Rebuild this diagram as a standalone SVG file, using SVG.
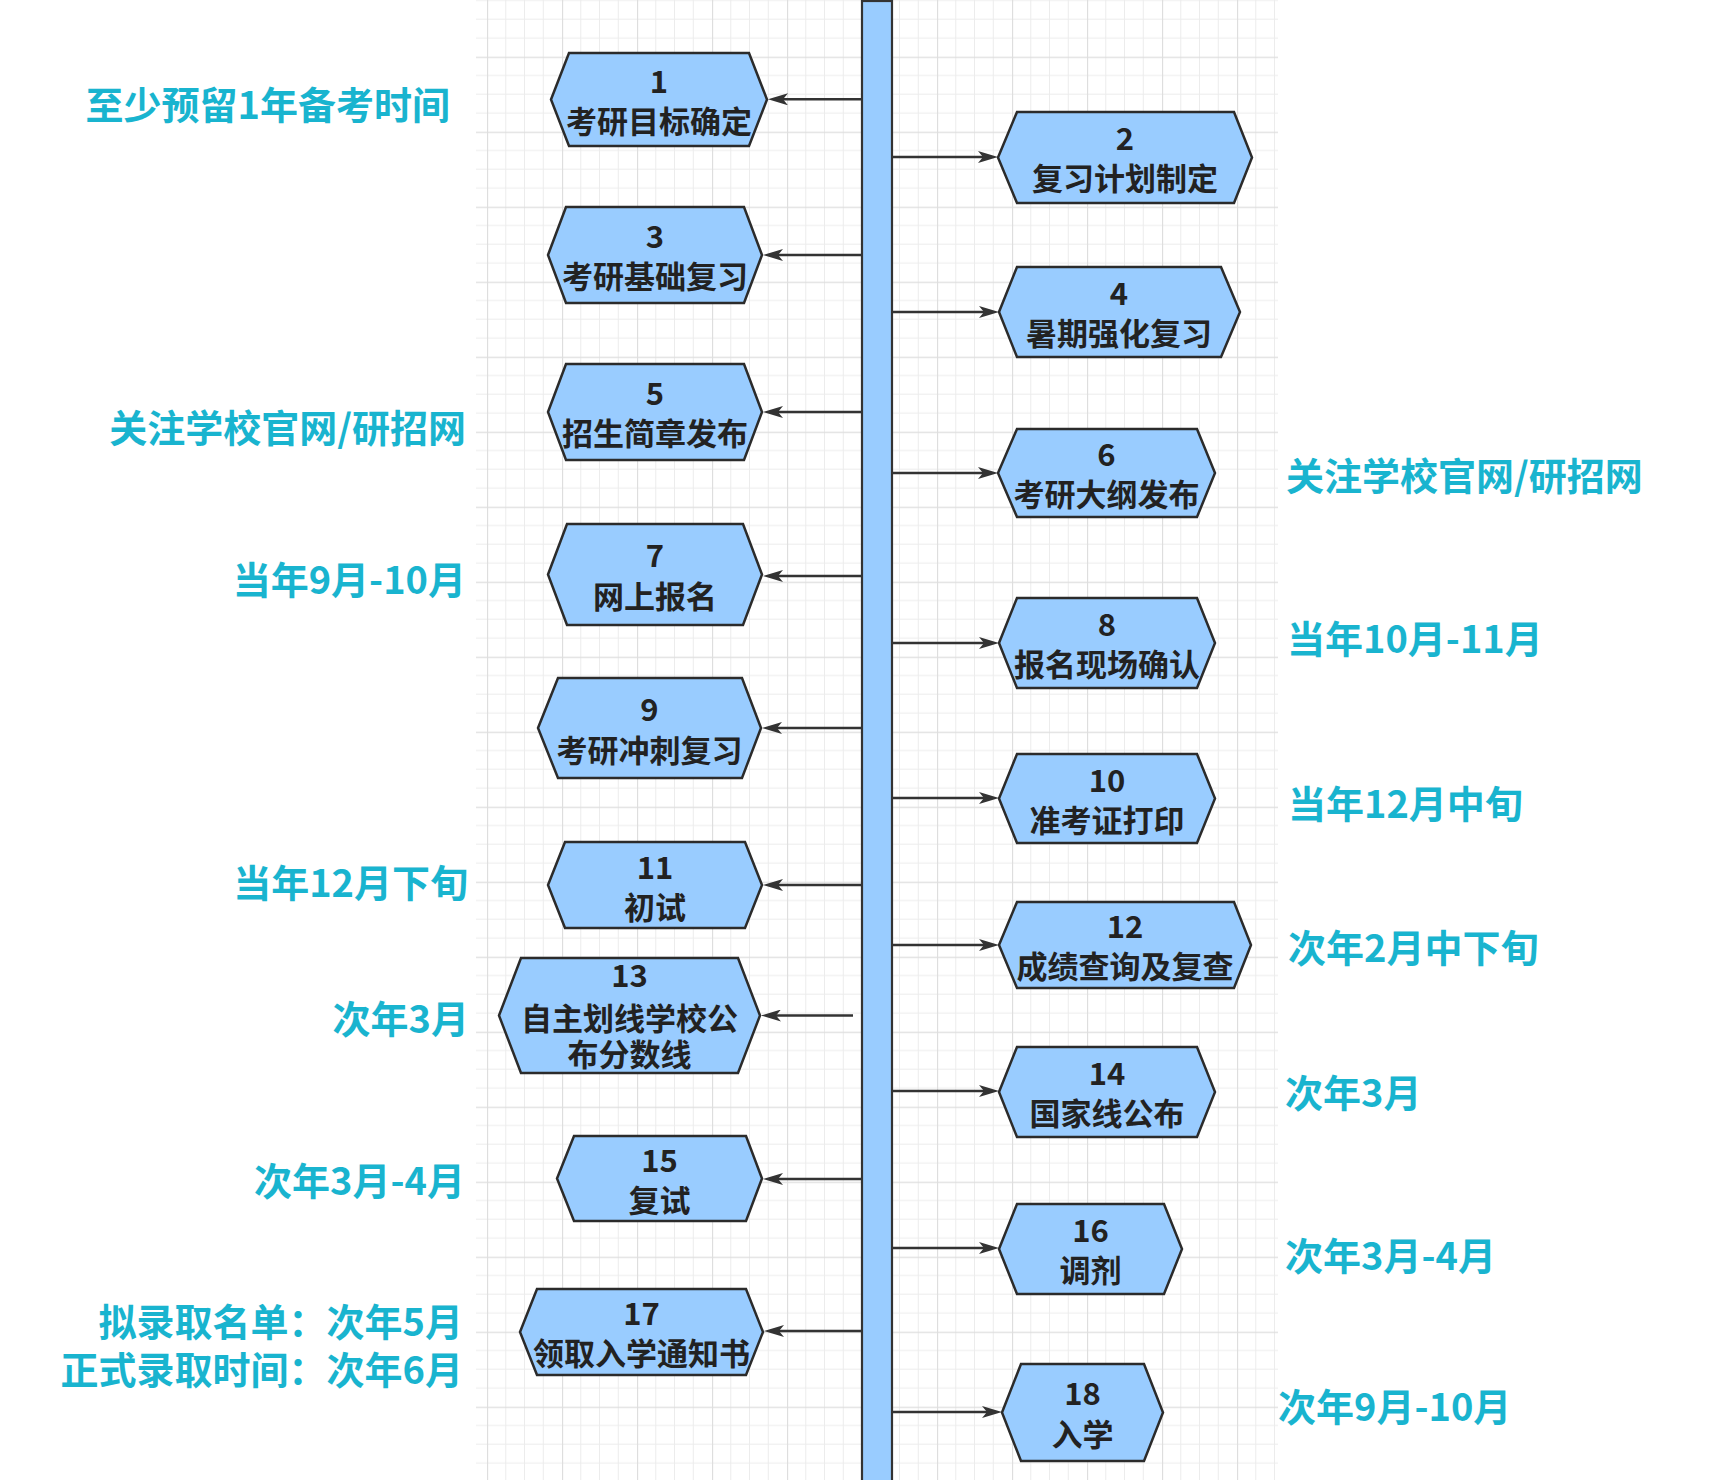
<svg xmlns="http://www.w3.org/2000/svg" width="1718" height="1480" viewBox="0 0 1718 1480">
<style>
.hex{fill:#99ccff;stroke:#2b2b2b;stroke-width:2.5;stroke-linejoin:miter}
.nt{font-family:"Noto Sans CJK SC","Noto Sans",sans-serif;font-weight:bold;font-size:31px;fill:#222;text-anchor:middle}
.lbl{font-family:"Noto Sans CJK SC","Noto Sans",sans-serif;font-weight:bold;font-size:38px;fill:#19b4cf}
.l{text-anchor:end}
.con{stroke:#333;stroke-width:2.5;fill:none;marker-end:url(#arr)}
</style>
<defs>
<pattern id="grid" x="487" y="56.7" width="75" height="75" patternUnits="userSpaceOnUse">
<path d="M18.75 0V75M37.5 0V75M56.25 0V75M0 18.75H75M0 37.5H75M0 56.25H75" stroke="#ececec" stroke-width="1"/>
<path d="M0.5 0V75M0 0.5H75" stroke="#dedede" stroke-width="1.3"/>
</pattern>
<marker id="arr" viewBox="0 0 20 12" refX="8" refY="6" markerWidth="20" markerHeight="12" markerUnits="userSpaceOnUse" orient="auto">
<path d="M0,0 L20,6 L0,12 L5,6 Z" fill="#333"/>
</marker>
</defs>
<rect width="1718" height="1480" fill="#fff"/>
<rect x="476" y="0" width="802" height="1480" fill="url(#grid)"/>
<g id="timeline">
<rect x="862" y="1" width="30" height="1490" fill="#99ccff" stroke="#333" stroke-width="2.2"/>
</g>
<g id="connectors">
<path class="con" d="M862 99.3H780"/>
<path class="con" d="M862 255H775"/>
<path class="con" d="M862 412H775"/>
<path class="con" d="M862 576H775"/>
<path class="con" d="M862 728H774"/>
<path class="con" d="M862 885H775"/>
<path class="con" d="M853 1015.5H773"/>
<path class="con" d="M862 1179H775"/>
<path class="con" d="M862 1331H776"/>
<path class="con" d="M892 157H986"/>
<path class="con" d="M892 312H987"/>
<path class="con" d="M892 473H986"/>
<path class="con" d="M892 643H987"/>
<path class="con" d="M892 798H987"/>
<path class="con" d="M892 945H987"/>
<path class="con" d="M892 1091H987"/>
<path class="con" d="M892 1248H987"/>
<path class="con" d="M892 1412H990"/>
</g>
<g id="n1"><polygon class="hex" points="551,99.5 569,53 749,53 767,99.5 749,146 569,146"/><text class="nt" x="659" y="93">1</text><text class="nt" x="659" y="133">考研目标确定</text></g>
<g id="n3"><polygon class="hex" points="548,255 566,207 744,207 762,255 744,303 566,303"/><text class="nt" x="655" y="248">3</text><text class="nt" x="655" y="288">考研基础复习</text></g>
<g id="n5"><polygon class="hex" points="548,412 566,364 744,364 762,412 744,460 566,460"/><text class="nt" x="655" y="405">5</text><text class="nt" x="655" y="445">招生简章发布</text></g>
<g id="n7"><polygon class="hex" points="548,574.5 567,524 743,524 762,574.5 743,625 567,625"/><text class="nt" x="655" y="567">7</text><text class="nt" x="655" y="608">网上报名</text></g>
<g id="n9"><polygon class="hex" points="538,728 558,678 742,678 761,728 742,778 558,778"/><text class="nt" x="649.5" y="721">9</text><text class="nt" x="649.5" y="762">考研冲刺复习</text></g>
<g id="n11"><polygon class="hex" points="548,885 565,842 745,842 762,885 745,928 565,928"/><text class="nt" x="655" y="879">11</text><text class="nt" x="655" y="919">初试</text></g>
<g id="n13"><polygon class="hex" points="499,1015.5 521,958 738,958 760,1015.5 738,1073 521,1073"/><text class="nt" x="629.5" y="987">13</text><text class="nt" x="629.5" y="1030">自主划线学校公</text><text class="nt" x="629.5" y="1066">布分数线</text></g>
<g id="n15"><polygon class="hex" points="557,1178.5 574,1136 746,1136 762,1178.5 746,1221 574,1221"/><text class="nt" x="659.5" y="1172">15</text><text class="nt" x="659.5" y="1212">复试</text></g>
<g id="n17"><polygon class="hex" points="520,1332 537,1289 746,1289 763,1332 746,1375 537,1375"/><text class="nt" x="641.5" y="1325">17</text><text class="nt" x="641.5" y="1365">领取入学通知书</text></g>
<g id="n2"><polygon class="hex" points="998,157.5 1017,112 1234,112 1252,157.5 1234,203 1017,203"/><text class="nt" x="1125" y="150">2</text><text class="nt" x="1125" y="190">复习计划制定</text></g>
<g id="n4"><polygon class="hex" points="999,312 1017,267 1221,267 1240,312 1221,357 1017,357"/><text class="nt" x="1119" y="305">4</text><text class="nt" x="1119" y="345">暑期强化复习</text></g>
<g id="n6"><polygon class="hex" points="998,473 1017,429 1197,429 1215,473 1197,517 1017,517"/><text class="nt" x="1106.5" y="466">6</text><text class="nt" x="1106.5" y="506">考研大纲发布</text></g>
<g id="n8"><polygon class="hex" points="999,643 1017,598 1197,598 1215,643 1197,688 1017,688"/><text class="nt" x="1107" y="636">8</text><text class="nt" x="1107" y="676">报名现场确认</text></g>
<g id="n10"><polygon class="hex" points="999,798.5 1017,754 1197,754 1215,798.5 1197,843 1017,843"/><text class="nt" x="1107" y="792">10</text><text class="nt" x="1107" y="832">准考证打印</text></g>
<g id="n12"><polygon class="hex" points="999,945 1017,902 1234,902 1251,945 1234,988 1017,988"/><text class="nt" x="1125" y="938">12</text><text class="nt" x="1125" y="978">成绩查询及复查</text></g>
<g id="n14"><polygon class="hex" points="999,1092 1017,1047 1197,1047 1215,1092 1197,1137 1017,1137"/><text class="nt" x="1107" y="1085">14</text><text class="nt" x="1107" y="1125">国家线公布</text></g>
<g id="n16"><polygon class="hex" points="999,1249 1017,1204 1164,1204 1182,1249 1164,1294 1017,1294"/><text class="nt" x="1090.5" y="1242">16</text><text class="nt" x="1090.5" y="1282">调剂</text></g>
<g id="n18"><polygon class="hex" points="1002,1412.5 1021,1364 1144,1364 1163,1412.5 1144,1461 1021,1461"/><text class="nt" x="1082.5" y="1405">18</text><text class="nt" x="1082.5" y="1446">入学</text></g>
<g id="labels">
<text class="lbl l" x="450" y="119">至少预留1年备考时间</text>
<text class="lbl l" x="466" y="442">关注学校官网/研招网</text>
<text class="lbl l" x="466" y="594">当年9月-10月</text>
<text class="lbl l" x="468" y="897">当年12月下旬</text>
<text class="lbl l" x="469" y="1033">次年3月</text>
<text class="lbl l" x="465" y="1195">次年3月-4月</text>
<text class="lbl l" x="463" y="1336">拟录取名单：次年5月</text>
<text class="lbl l" x="463" y="1384">正式录取时间：次年6月</text>
<text class="lbl" x="1286" y="490">关注学校官网/研招网</text>
<text class="lbl" x="1287" y="653">当年10月-11月</text>
<text class="lbl" x="1288" y="818">当年12月中旬</text>
<text class="lbl" x="1288" y="962">次年2月中下旬</text>
<text class="lbl" x="1285" y="1107">次年3月</text>
<text class="lbl" x="1285" y="1270">次年3月-4月</text>
<text class="lbl" x="1278" y="1421">次年9月-10月</text>
</g>
</svg>
